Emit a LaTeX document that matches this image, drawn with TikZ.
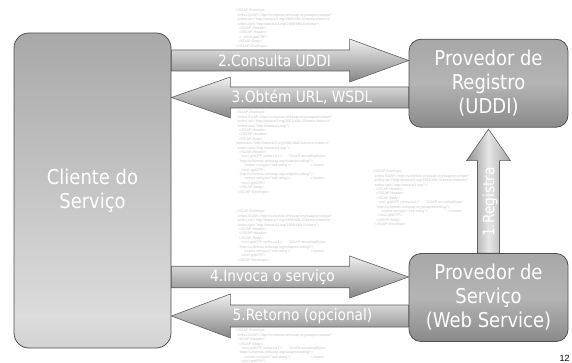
\documentclass[tikz,border=0pt]{standalone}
\usepackage{fontspec}
\setmainfont[FakeStretch=0.88]{DejaVu Sans}
\newfontfamily\xmlfont{Liberation Sans}
\usetikzlibrary{calc}
\definecolor{cliTop}{HTML}{8C8C8C}
\definecolor{cliLight}{HTML}{DCDCDC}
\definecolor{cliBot}{HTML}{A2A2A2}
\definecolor{provTop}{HTML}{A8A8A8}
\definecolor{provMid}{HTML}{B4B4B4}
\definecolor{provBot}{HTML}{8A8A8A}
\definecolor{boxline}{HTML}{505050}
\definecolor{arrline}{HTML}{606060}
\definecolor{arrTop}{HTML}{F0F0F0}
\definecolor{arrBot}{HTML}{848484}
\definecolor{varL}{HTML}{8E8E8E}
\definecolor{varM}{HTML}{E6E6E6}
\definecolor{varR}{HTML}{A6A6A6}
\definecolor{xmlgray}{HTML}{C4C4C4}
\pgfdeclareverticalshading{clishade}{100bp}{color(0bp)=(cliBot); color(30bp)=(cliLight); color(100bp)=(cliTop)}
\pgfdeclarelayer{bg}
\pgfsetlayers{bg,main}
\tikzset{
  box/.style={draw=boxline, line width=0.8pt, rounded corners=12pt, text=white, align=center,
    font=\fontsize{20.4}{24}\selectfont, inner sep=0pt},
  clibox/.style={box, rounded corners=15pt, shading=clishade, minimum width=157pt, minimum height=315pt},
  provbox/.style={box, top color=provTop, bottom color=provBot, middle color=provMid,
    minimum width=159pt, minimum height=88pt},
  harrow/.style={draw=arrline, line width=0.6pt, top color=arrTop, bottom color=arrBot},
  varrow/.style={draw=arrline, line width=0.6pt, left color=varL, right color=varR, middle color=varM},
  alabel/.style={text=white, font=\fontsize{15.6}{18}\selectfont, inner sep=0pt},
  xml/.style={anchor=north west, align=left, inner sep=0pt, text=xmlgray,
    font=\xmlfont\fontsize{3.6}{4.4}\selectfont},
  pagenum/.style={font=\xmlfont\fontsize{9}{10}\selectfont, text=black, inner sep=0pt}
}
\begin{document}
\begin{tikzpicture}[x=1pt,y=-1pt]
\useasboundingbox (0,0) rectangle (572,363);
\begin{pgfonlayer}{bg}
\fill[white] (0,0) rectangle (572,363);
% tiny SOAP messages
\node[xml] (xa) at (236,9) {%
<SOAP-Envelope\\
\hspace*{1.5pt}xmlns:SOAP="http://schemas.xmlsoap.org/soap/envelope/"\\
\hspace*{1.5pt}xmlns:xsi="http://www.w3.org/1999/XMLSchema-instance"\\
\hspace*{1.5pt}xmlns:xsd="http://www.w3.org/1999/XMLSchema">\\
\hspace*{3pt}<SOAP-Header>\\
\hspace*{3pt}</SOAP-Header>\\
\hspace*{3pt}<\ \ </ns1:getCPF>\\
\hspace*{1.5pt}</SOAP-Body>\\
</SOAP-Envelope>};
\node[xml] (xb) at (236,111) {%
<SOAP-Envelope\\
\hspace*{1.5pt}xmlns:SOAP="http://schemas.xmlsoap.org/soap/envelope/"\\
\hspace*{1.5pt}xmlns:xsi="http://www.w3.org/2001/XMLSchema-instance"\\
\hspace*{1.5pt}xmlns:xsd="http://www.w3.org/">\\
\hspace*{3pt}<SOAP-Header>\\
\hspace*{3pt}</SOAP-Header>\\
\hspace*{3pt}<SOAP-Body>\\
xmlns:xsi="http://www.w3.org/2001/XMLSchema-instance"\\
\hspace*{1.5pt}xmlns:xsd="http://www.w3.org/">\\
\hspace*{3pt}<SOAP-Header>\\
\hspace*{5pt}<ns1:getCPF xmlns:ns1="\ \ \ \ \ \ "SOAP-encodingStyle=\\
\hspace*{3pt}"http://schemas.xmlsoap.org/soap/encoding/">\\
\hspace*{8pt}<nome xsi:type="xsd:string">\hspace*{20pt}</nome>\\
\hspace*{5pt}</ns1:getCPF>\\
\hspace*{3pt}"http://schemas.xmlsoap.org/soap/encoding/">\\
\hspace*{8pt}<nome xsi:type="xsd:string">\hspace*{20pt}</nome>\\
\hspace*{5pt}</ns1:getCPF>\\
\hspace*{3pt}</SOAP-Body>\\
\hspace*{1.5pt}</SOAP-Envelope>};
\node[xml] (xc) at (373,170) {%
<SOAP-Envelope\\
\hspace*{1.5pt}xmlns:SOAP="http://schemas.xmlsoap.org/soap/envelope/"\\
\hspace*{1.5pt}xmlns:xsi="http://www.w3.org/1999/XMLSchema-instance"\\
\hspace*{1.5pt}xmlns:xsd="http://www.w3.org/">\\
\hspace*{3pt}<SOAP-Header>\\
\hspace*{3pt}</SOAP-Header>\\
\hspace*{3pt}<SOAP-Body>\\
\hspace*{5pt}<ns1:getCPF xmlns:ns1="\ \ \ \ \ \ "SOAP-encodingStyle=\\
\hspace*{3pt}"http://schemas.xmlsoap.org/soap/encoding/">\\
\hspace*{8pt}<nome xsi:type="xsd:string">\hspace*{20pt}</nome>\\
\hspace*{5pt}</ns1:getCPF>\\
\hspace*{3pt}</SOAP-Body>\\
\hspace*{1.5pt}</SOAP-Envelope>};
\node[xml] (xd) at (236,210) {%
<SOAP-Envelope\\
\hspace*{1.5pt}xmlns:SOAP="http://schemas.xmlsoap.org/soap/envelope/"\\
\hspace*{1.5pt}xmlns:xsi="http://www.w3.org/1999/XMLSchema-instance"\\
\hspace*{1.5pt}xmlns:xsd="http://www.w3.org/1999/XMLSchema">\\
\hspace*{3pt}<SOAP-Header>\\
\hspace*{3pt}</SOAP-Header>\\
\hspace*{3pt}<SOAP-Body>\\
\hspace*{5pt}<ns1:getCPF xmlns:ns1="\ \ \ \ \ \ "SOAP-encodingStyle=\\
\hspace*{3pt}"http://schemas.xmlsoap.org/soap/encoding/">\\
\hspace*{8pt}<nome xsi:type="xsd:string">\hspace*{20pt}</nome>\\
\hspace*{5pt}</ns1:getCPF>\\
\hspace*{1.5pt}</SOAP-Envelope>};
\node[xml] (xe) at (236,329) {%
<SOAP-Envelope\\
\hspace*{1.5pt}xmlns:SOAP="http://schemas.xmlsoap.org/soap/envelope/"\\
\hspace*{1.5pt}<SOAP-Header>\\
\hspace*{3pt}<SOAP-Body>\\
\hspace*{5pt}<ns1:getCPF xmlns:ns1="\ \ \ \ \ \ "SOAP-encodingStyle=\\
\hspace*{3pt}"http://schemas.xmlsoap.org/soap/encoding/">\\
\hspace*{8pt}<nome xsi:type="xsd:string">\hspace*{20pt}</nome>\\
\hspace*{5pt}</ns1:getCPF>};
\end{pgfonlayer}

% boxes
\node[clibox] (cli) at (92.5,190.5) {Cliente do\\Serviço};
\node[provbox] (reg) at (488.5,83.25) {Provedor de\\Registro\\(UDDI)};
\node[provbox] (srv) at (488.5,297.5) {Provedor de\\Serviço\\(Web Service)};

% anchor points of the block arrows
\coordinate (a2s) at (cli.east |- 0,60.5);
\coordinate (a2e) at (reg.west |- 0,60.5);
\coordinate (a3s) at (reg.west |- 0,97.5);
\coordinate (a3e) at (cli.east |- 0,97.5);
\coordinate (a4s) at (cli.east |- 0,277);
\coordinate (a4e) at (srv.west |- 0,277);
\coordinate (a5s) at (srv.west |- 0,316);
\coordinate (a5e) at (cli.east |- 0,316);
\coordinate (a1s) at (srv.north);
\coordinate (a1e) at (reg.south);

\begin{pgfonlayer}{bg}
% 2: client -> registry
\path[harrow] ($(a2s)+(0,-10.5)$) -- ($(a2e)+(-59,-10.5)$) -- ($(a2e)+(-59,-21.5)$) -- (a2e)
  -- ($(a2e)+(-59,21.5)$) -- ($(a2e)+(-59,10.5)$) -- ($(a2s)+(0,10.5)$) -- cycle;
% 3: registry -> client
\path[harrow] ($(a3s)+(0,-10.5)$) -- ($(a3e)+(59,-10.5)$) -- ($(a3e)+(59,-20.5)$) -- (a3e)
  -- ($(a3e)+(59,20.5)$) -- ($(a3e)+(59,10.5)$) -- ($(a3s)+(0,10.5)$) -- cycle;
% 4: client -> service
\path[harrow] ($(a4s)+(0,-10.75)$) -- ($(a4e)+(-59,-10.75)$) -- ($(a4e)+(-59,-21)$) -- (a4e)
  -- ($(a4e)+(-59,21)$) -- ($(a4e)+(-59,10.75)$) -- ($(a4s)+(0,10.75)$) -- cycle;
% 5: service -> client
\path[harrow] ($(a5s)+(0,-11)$) -- ($(a5e)+(59,-11)$) -- ($(a5e)+(59,-22)$) -- (a5e)
  -- ($(a5e)+(59,22)$) -- ($(a5e)+(59,11)$) -- ($(a5s)+(0,11)$) -- cycle;
% 1: service -> registry
\path[varrow] ($(a1s)+(-11,0)$) -- ($(a1e)+(-11,33)$) -- ($(a1e)+(-22,33)$) -- ($(a1e)+(0,1.5)$)
  -- ($(a1e)+(22,33)$) -- ($(a1e)+(11,33)$) -- ($(a1s)+(11,0)$) -- cycle;
\end{pgfonlayer}

% arrow labels
\node[alabel] (l2) at (274.5,60.5) {2.Consulta UDDI};
\node[alabel] (l3) at (302,97.5) {3.Obtém URL, WSDL};
\node[alabel] (l4) at (272.5,277) {4.Invoca o serviço};
\node[alabel] (l5) at (302.5,316) {5.Retorno (opcional)};
\node[alabel, rotate=90] (l1) at (490,202) {1.Registra};

\node[pagenum] (pg) at (564.5,358.5) {12};
\end{tikzpicture}
\end{document}
